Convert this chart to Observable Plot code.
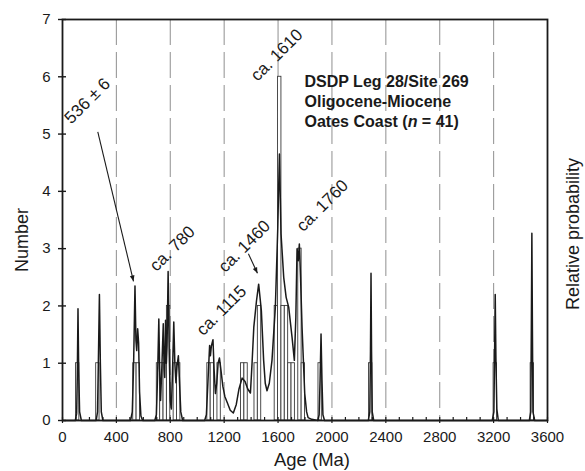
<!DOCTYPE html>
<html><head><meta charset="utf-8">
<script src="https://cdn.jsdelivr.net/npm/d3@7"></script>
<script src="https://cdn.jsdelivr.net/npm/@observablehq/plot@0.6"></script>
<style>body{margin:0;background:#fff}</style>
</head><body><div id="chart"></div>
<script>
// Histogram bins (Ma) and counts
const binStart = [100,250,525,550,700,725,750,775,825,850,1075,1100,1150,1325,1350,1425,1450,1575,1600,1625,1650,1675,1700,1750,1775,1900,2275,3200,3475];
const binEnd   = [125,275,550,575,725,750,775,800,850,875,1100,1125,1175,1350,1375,1450,1475,1600,1625,1650,1675,1700,1725,1775,1800,1925,2300,3225,3500];
const binCount = [1,1,1,1,1,1,1,2,1,1,1,1,1,1,1,1,2,2,6,2,2,1,1,3,1,1,1,1,1];

// Relative probability curve (age Ma, value on Number scale)
const curveAge = [0,95,105,110,115,120,127,140,250,260,266,274,281,288,300,505,518,528,538,545,551,558,565,572,582,595,
  685,697,706,715,721,728,737,748,754,759,765,771,776,784,792,800,808,816,826,834,842,850,860,868,878,892,
  1055,1068,1080,1092,1098,1105,1117,1125,1135,1145,1155,1165,1175,1190,1205,1222,1245,1268,1290,1310,1333,1355,1375,1395,
  1407,1420,1440,1456,1476,1493,1505,1518,1535,1555,1580,1598,1610,1622,1642,1660,1679,1704,1721,1732,1741,1750,1758,1767,1778,1798,1812,1823,1850,1895,
  1905,1912,1919,1926,1933,1945,2270,2281,2286,2290,2294,2299,2310,3190,3202,3207,3212,3217,3224,3235,3465,3476,3480,3484,3488,3492,3505,3600];
const curveProb = [0,0,0.12,0.8,1.95,0.9,0.15,0,0,0.15,1.0,2.2,1.0,0.15,0,0,0.15,1.0,2.35,1.4,1.22,1.6,1.35,0.5,0.08,0,
  0,0.1,0.8,1.77,0.9,0.35,0.9,1.69,0.9,0.75,1.75,1.0,1.3,2.6,1.2,0.35,0.2,0.8,1.72,1.0,0.66,0.95,1.13,0.7,0.15,0,
  0,0.1,0.7,1.31,1.13,1.3,1.41,0.9,0.47,0.65,1.0,1.09,0.9,0.6,0.42,0.32,0.18,0.13,0.28,0.55,0.74,0.68,0.55,0.48,
  1.0,1.63,2.09,2.38,1.92,1.05,0.65,0.52,0.65,1.05,1.98,3.37,4.65,3.26,2.5,2.15,1.98,1.45,1.05,1.8,3.0,2.79,3.08,2.5,1.63,0.47,0.15,0.05,0.02,0,
  0.1,0.7,1.51,0.7,0.1,0,0,0.15,1.2,2.57,1.2,0.15,0,0,0.15,1.1,2.2,1.1,0.2,0,0,0.15,1.6,3.27,1.6,0.15,0,0];

const xTicks = [0,400,800,1200,1600,2000,2400,2800,3200,3600];
const xMinor = d3.range(100, 3600, 100).filter(v => v % 400 !== 0);
const gridAges = [400,800,1200,1600,2000,2400,2800,3200];
const yTicks = [0,1,2,3,4,5,6,7];

const annoText = ["ca. 1610","536 ± 6","ca. 780","ca. 1115","ca. 1460","ca. 1760"];
const annoAge  = [1590, 185, 816, 1180, 1350, 1929];
const annoY    = [6.38, 5.58, 3.0, 1.92, 3.04, 3.75];

const arrowFromAge = [262, 1380], arrowFromY = [5.04, 2.91];
const arrowToAge   = [527, 1447], arrowToY   = [2.43, 2.57];

const titleLines = ["DSDP Leg 28/Site 269", "Oligocene-Miocene"];

const bins = binStart.map((s, i) => ({x1: s, x2: binEnd[i], n: binCount[i]}));
const curve = curveAge.map((a, i) => ({age: a, p: curveProb[i]}));
const annos = annoText.map((t, i) => ({t, x: annoAge[i], y: annoY[i]}));
const arrows = arrowFromAge.map((a, i) => ({x1: a, y1: arrowFromY[i], x2: arrowToAge[i], y2: arrowToY[i]}));

const FONT = "'Liberation Sans', Arial, Helvetica, sans-serif";
const fmt = d => String(d);
const plot = Plot.plot({
  width: 585, height: 471,
  marginLeft: 62, marginRight: 38, marginTop: 19, marginBottom: 51,
  style: {fontFamily: FONT, fontSize: "14px", color: "#1a1a1a", background: "#fff"},
  x: {domain: [0, 3600]},
  y: {domain: [0, 7]},
  marks: [
    Plot.ruleX(gridAges, {stroke: "#9a9a9a", strokeWidth: 1.1, strokeDasharray: "26,7"}),
    Plot.rectY(bins, {x1: "x1", x2: "x2", y1: 0, y2: "n", fill: "white", stroke: "#3a3a3a", strokeWidth: 0.9}),
    Plot.line(curve, {x: "age", y: "p", stroke: "#1a1a1a", strokeWidth: 1.5}),
    Plot.frame({stroke: "#1a1a1a", strokeWidth: 1.8}),
    Plot.axisX({ticks: xMinor, tickSize: 3, dy: -3, tickFormat: () => "", label: null, strokeWidth: 1.2}),
    Plot.axisX({ticks: xTicks, tickSize: 6, dy: -3, tickFormat: () => "", label: null, strokeWidth: 1.2}),
    Plot.axisX({ticks: xTicks, tickSize: 0, tickPadding: 11, tickFormat: fmt, label: null, fontSize: 15}),
    Plot.axisY({ticks: yTicks, tickSize: 8, dx: 4, tickFormat: () => "", label: null, strokeWidth: 1.4}),
    Plot.axisY({ticks: yTicks, tickSize: 0, tickPadding: 12, tickFormat: fmt, label: null, fontSize: 15}),
    Plot.link(arrows, {x1: "x1", y1: "y1", x2: "x2", y2: "y2", stroke: "#1a1a1a", strokeWidth: 1.1, markerEnd: "arrow"}),
    Plot.text(annos, {x: "x", y: "y", text: "t", rotate: -45, fontSize: 17, fill: "#1a1a1a", textAnchor: "middle"})
  ]
});
document.getElementById("chart").appendChild(plot);

const svg = d3.select(plot);
// filled arrowheads
svg.selectAll("marker").attr("overflow", "visible")
  .selectAll("path").attr("d", "M-8,-3.2L0,0L-8,3.2Z").attr("fill", "#1a1a1a").attr("stroke", "none");

const xs = plot.scale("x"), ys = plot.scale("y");
// Title block
const tx = xs.apply(1800);
const t = svg.append("text").attr("font-family", FONT).attr("font-size", 16).attr("font-weight", "bold")
  .attr("fill", "#1a1a1a").attr("text-anchor", "start");
t.append("tspan").attr("x", tx).attr("y", ys.apply(5.81)).text(titleLines[0]);
t.append("tspan").attr("x", tx).attr("y", ys.apply(5.46)).text(titleLines[1]);
const l3 = t.append("tspan").attr("x", tx).attr("y", ys.apply(5.11));
l3.append("tspan").text("Oates Coast (");
l3.append("tspan").attr("font-style", "italic").text("n");
l3.append("tspan").text(" = 41)");

// Axis titles
svg.append("text").attr("font-family", FONT).attr("font-size", 18.5).attr("fill", "#1a1a1a")
  .attr("text-anchor", "middle").attr("x", 312).attr("y", 466).text("Age (Ma)");
svg.append("text").attr("font-family", FONT).attr("font-size", 18).attr("fill", "#1a1a1a")
  .attr("text-anchor", "middle").attr("transform", "translate(28,240) rotate(-90)").text("Number");
svg.append("text").attr("font-family", FONT).attr("font-size", 18).attr("fill", "#1a1a1a")
  .attr("text-anchor", "middle").attr("transform", "translate(579,234) rotate(-90)").text("Relative probability");
</script>
</body></html>
